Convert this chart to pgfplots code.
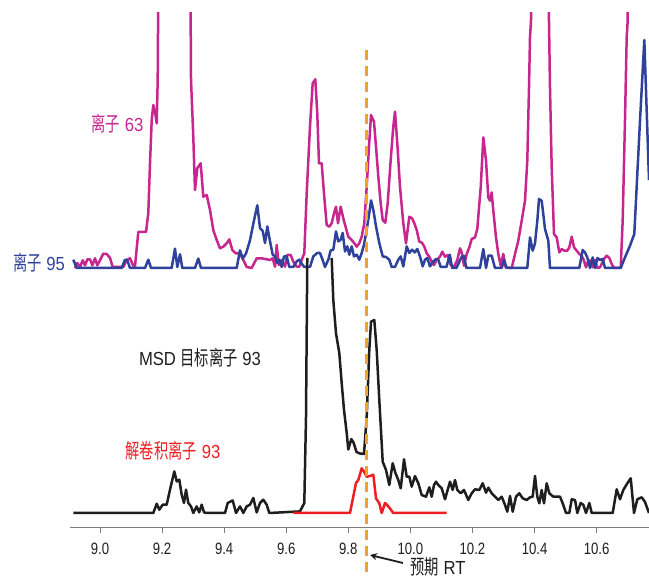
\documentclass[border=0pt]{standalone}
\usepackage{pgfplots}
\pgfplotsset{compat=1.18}
\usepackage{pgfplotstable}
\usepackage{fontspec}
\usetikzlibrary{arrows.meta}
\setmainfont[FakeStretch=0.8]{Liberation Sans}
\newfontfamily\lab[FakeStretch=0.88]{Liberation Sans}
\newfontfamily\cjk[FakeStretch=0.7]{Noto Sans CJK SC}
\newcommand\C[1]{{\cjk\fontsize{20.5}{20.5}\selectfont #1}}
\definecolor{ionA}{RGB}{198,38,142}
\definecolor{ionB}{RGB}{47,66,155}
\definecolor{ionT}{RGB}{30,30,30}
\definecolor{ionD}{RGB}{237,30,36}
\definecolor{rtcol}{RGB}{247,160,40}
\definecolor{axgray}{RGB}{125,125,125}

% ion 63 (magenta), intensity above its own baseline
\pgfplotstableread{
t h
8.9195 0
8.9269 5
8.9356 1
8.9443 7.7
8.9517 2.7
8.9591 8.7
8.9678 8.7
8.9752 2.7
8.9839 9.7
8.9913 2.7
9.0000 7.7
9.0106 14.3
9.0216 14
9.0322 10
9.0409 1
9.0751 1
9.0860 8
9.0966 9.7
9.1073 2
9.1128 2
9.1234 36
9.1395 36
9.1482 36
9.1556 54.7
9.1611 104.7
9.1666 148
9.1717 163
9.1772 156
9.1827 144.7
9.1859 188
9.1965 700
9.2835 700
9.2932 188
9.3006 131
9.3060 78
9.3135 99.7
9.3244 104.7
9.3328 71.3
9.3438 73
9.3544 58
9.3650 38
9.3760 28
9.3866 19.7
9.3972 21.3
9.4082 24.7
9.4166 28.7
9.4262 18
9.4372 14.7
9.4510 14.7
9.4617 8
9.4726 1
9.4887 0
9.5048 9.7
9.5209 9.7
9.5370 8.7
9.5477 8
9.5564 9.7
9.5638 1.3
9.5693 23
9.5757 3
9.5854 8
9.5960 1.3
9.6034 13
9.6144 13
9.6227 6.3
9.6337 1.3
9.6421 1.3
9.6517 9.7
9.6582 14.7
9.6659 74.7
9.6765 141.3
9.6852 184.7
9.6936 188.7
9.7000 154.7
9.7055 104.7
9.7142 104.7
9.7216 74.7
9.7303 43
9.7387 41.3
9.7464 44.7
9.7539 54.7
9.7603 61.3
9.7667 44.7
9.7754 61.3
9.7838 49.7
9.7925 39.7
9.7999 31.3
9.8109 28
9.8193 24.7
9.8270 21.3
9.8354 24.7
9.8431 31.3
9.8515 44.7
9.8592 81.3
9.8666 121.3
9.8731 153
9.8827 146.3
9.8892 121.3
9.8966 91.3
9.9043 64.7
9.9108 48
9.9191 45.3
9.9269 64.7
9.9365 108
9.9449 141.3
9.9504 156.3
9.9578 124.7
9.9665 81.3
9.9771 44.7
9.9858 24.7
9.9965 51.3
10.0052 49.7
10.0126 44.7
10.0203 38
10.0287 26.3
10.0374 25.3
10.0448 21.3
10.0525 14.7
10.0609 11.3
10.0686 6.3
10.0760 3
10.0847 8
10.0954 11.3
10.1028 16.3
10.1115 11.3
10.1202 13
10.1298 3
10.1405 1
10.1511 8
10.1598 19.7
10.1653 15.6
10.1727 2.3
10.1814 14
10.1898 20.6
10.1975 29
10.2081 30.6
10.2155 39
10.2265 80.6
10.2349 130.6
10.2436 107.3
10.2510 70.6
10.2564 67.3
10.2619 75.6
10.2671 57.3
10.2758 30.6
10.2832 14
10.2909 2.3
10.2993 14
10.3070 0.6
10.3264 0
10.3370 14
10.3476 27.3
10.3586 47.3
10.3692 67.3
10.3766 107.3
10.3821 180.6
10.3853 230.6
10.3885 247
10.4014 700
10.4401 700
10.4465 247
10.4497 180.6
10.4552 100.6
10.4626 34
10.4713 30.6
10.4797 15.6
10.4874 19
10.4958 17.3
10.5055 17.3
10.5119 20.6
10.5197 31.3
10.5271 20.6
10.5358 17.3
10.5441 14
10.5519 12.3
10.5593 7.3
10.5657 0.6
10.5731 7.3
10.5809 7.3
10.5873 0.6
10.5947 8
10.6021 0
10.6108 0.6
10.6237 9
10.6324 12.3
10.6408 10
10.6485 4
10.6559 0
10.6775 0
10.6839 47.3
10.6913 147.3
10.6968 230.6
10.7000 247
10.7074 700
10.7718 700
}\ionA

% ion 95 (blue)
\pgfplotstableread{
t h
8.9140 8.3
8.9249 0
9.0699 0
9.0805 8.3
9.0880 7.7
9.0966 0
9.1450 0
9.1556 8.3
9.1643 0
9.2310 0
9.2416 19.4
9.2490 1
9.2577 13.7
9.2651 0
9.3060 0
9.3167 9.4
9.3254 0
9.4404 0
9.4510 17.7
9.4597 9.4
9.4704 14.4
9.4832 27.7
9.4939 44.4
9.5068 62.7
9.5155 40
9.5242 37
9.5316 25
9.5390 41.5
9.5477 26.6
9.5564 13.3
9.5638 11.6
9.5712 5
9.5776 8.3
9.5854 1
9.5928 11.6
9.6015 11.6
9.6099 1
9.6227 1
9.6337 6.6
9.6421 8.3
9.6498 4.3
9.6582 1
9.6765 1
9.6872 11.6
9.7000 15
9.7087 15
9.7162 9
9.7249 1
9.7355 8.3
9.7432 17.6
9.7516 18.3
9.7603 36.6
9.7677 26.6
9.7754 28.3
9.7819 35
9.7893 16.6
9.7967 21.6
9.8031 13.3
9.8109 21.6
9.8183 11.6
9.8270 13.3
9.8354 8.3
9.8431 15
9.8505 23.3
9.8592 38.3
9.8676 55
9.8731 67.6
9.8805 58.3
9.8892 41.6
9.8998 25
9.9108 11.6
9.9214 11
9.9320 8.3
9.9398 1
9.9504 1
9.9610 8.3
9.9688 11.6
9.9771 1.6
9.9881 21.6
9.9965 15
10.0052 18.3
10.0139 15.6
10.0222 19
10.0309 11.6
10.0396 1.6
10.0470 8.3
10.0545 10
10.0631 1.6
10.0738 6.6
10.0825 9
10.0899 8.3
10.0976 1
10.1160 1
10.1270 13.3
10.1344 0
10.1482 0
10.1643 10.6
10.1721 12.3
10.1805 0
10.2242 0
10.2349 19
10.2436 0
10.2510 12.3
10.2619 12.3
10.2725 0
10.2941 0
10.3016 8
10.3099 0
10.3766 0
10.3853 30.6
10.3940 17.3
10.4014 24.6
10.4089 47.3
10.4143 69
10.4229 67.3
10.4281 54
10.4336 39
10.4443 27.3
10.4497 0
10.5441 0
10.5551 18
10.5625 15.6
10.5699 10.6
10.5786 0
10.5873 10.6
10.5947 0
10.6028 10
10.6108 8
10.6195 9
10.6269 0
10.6775 0
10.6913 10.6
10.7074 22.3
10.7213 34
10.7397 147.3
10.7536 228
10.7687 88
}\ionB

% MSD target ion 93 (black)
\pgfplotstableread{
t h
8.9140 0
9.1717 0
9.1827 9.3
9.1910 3.3
9.2020 8.3
9.2149 8.3
9.2255 23.3
9.2394 41.6
9.2471 31.6
9.2555 33.3
9.2632 18.3
9.2706 10
9.2771 23.3
9.2845 10
9.2932 6.6
9.3006 0
9.3115 6.6
9.3196 0.6
9.3276 8.3
9.3351 0.6
9.3438 0
9.4027 0
9.4114 10
9.4275 12.6
9.4381 0
9.4510 6.6
9.4617 0
9.4726 6.6
9.4832 8.3
9.4939 15
9.5048 0.6
9.5155 10
9.5261 13.3
9.5370 8.3
9.5454 0
9.6443 1.6
9.6582 10
9.6637 96.6
9.6678 255
9.7000 nan
9.7464 255
9.7516 213
9.7603 179.7
9.7709 160
9.7787 129.7
9.7861 103
9.7948 80
9.7999 63.5
9.8096 74
9.8173 70
9.8263 61
9.8376 59.5
9.8505 59
9.8592 96.3
9.8676 163
9.8731 191.3
9.8837 193
9.8914 163
9.8998 113
9.9108 51.3
9.9214 43
9.9320 28
9.9430 49.7
9.9514 40.3
9.9610 33
9.9688 24.7
9.9794 53.7
9.9881 36.3
9.9965 36.3
10.0042 26.3
10.0148 37
10.0255 29.7
10.0364 18
10.0503 16.3
10.0609 25.7
10.0686 16.3
10.0760 28
10.0825 31.3
10.0899 28
10.1008 24.7
10.1115 13.7
10.1276 31.3
10.1363 23
10.1437 33
10.1511 23
10.1621 19.7
10.1727 23
10.1865 13
10.1975 19.7
10.2081 23.7
10.2220 23
10.2330 29.7
10.2436 20.3
10.2510 25.3
10.2619 19.7
10.2725 16.3
10.2832 13
10.2941 16.3
10.3048 8
10.3122 1.3
10.3209 17
10.3296 1.3
10.3402 16.3
10.3509 19.7
10.3618 14.7
10.3747 13
10.3853 15.7
10.3940 16.3
10.4014 37
10.4089 16.3
10.4153 9.7
10.4229 23
10.4304 9.7
10.4391 29.7
10.4475 19.7
10.4604 16.3
10.4820 16.3
10.4907 9.7
10.5013 0
10.5119 0
10.5197 13.7
10.5303 13
10.5377 0
10.5486 10
10.5570 8.3
10.5657 0
10.5764 10
10.5841 0
10.6517 0
10.6646 23.7
10.6753 13.7
10.6859 23
10.6988 29.7
10.7098 34.7
10.7204 0
10.7310 13.7
10.7452 15.7
10.7558 11
10.7687 0
}\ionT

% deconvoluted ion 93 (red)
\pgfplotstableread{
t h
9.6227 0
9.7999 0
9.8054 0
9.8247 30
9.8322 33
9.8431 44.7
9.8505 41.3
9.8592 36.3
9.8698 37
9.8805 38.3
9.8892 14.7
9.8998 9.7
9.9075 0
9.9182 10
9.9288 6.7
9.9449 0
10.1163 0
}\ionD

\begin{document}
\begin{tikzpicture}
\path[use as bounding box] (-70bp,-53bp) rectangle (579bp,527bp);
\begin{axis}[
  at={(0,0)}, anchor=south west,
  scale only axis, width=579bp, height=514bp,
  xmin=8.90335, xmax=10.76869, ymin=-14, ymax=500,
  axis x line*=bottom, axis y line=none,
  x axis line style={axgray, line width=1bp, -},
  xtick={9.0,9.2,9.4,9.6,9.8,10.0,10.2,10.4,10.6},
  tick align=outside, major tick length=6bp,
  tick style={axgray, line width=1bp},
  xticklabel style={/pgf/number format/.cd, fixed, fixed zerofill, precision=1, assume math mode=true},
  ticklabel style={font=\fontsize{16.5}{16.5}\selectfont, text=ionT, yshift=-7bp},
  every axis plot/.append style={line width=2.5bp, line join=round, mark=none},
]
\addplot[ionA] table[x=t, y expr=\thisrow{h}+245] {\ionA};
\addplot[ionB] table[x=t, y expr=\thisrow{h}+245] {\ionB};
\addplot[ionT, unbounded coords=jump] table[x=t, y=h] {\ionT};
\addplot[ionD] table[x=t, y=h] {\ionD};
\coordinate (rt) at (axis cs:9.8586,463);
\end{axis}
\draw[rtcol, line width=3bp, dash pattern=on 10bp off 6bp] (rt) -- ++(0,-525bp);
\draw[ionT, line width=1.8bp, -{Stealth[length=7bp,width=7bp]}] (333bp,-36bp) -- (300bp,-28bp);
\begin{scope}[every node/.style={font=\fontsize{19}{19}\selectfont\lab, inner sep=0pt}]
\node[text=ionA] at (47.5bp,403bp) {\C{离子} 63};
\node[text=ionB] at (-31bp,264.5bp) {\C{离子} 95};
\node[text=ionT] at (130bp,169bp) {MSD \C{目标离子} 93};
\node[text=ionD] at (103bp,76bp) {\C{解卷积离子} 93};
\node[text=ionT] at (368bp,-40bp) {\C{预期} RT};
\end{scope}
\end{tikzpicture}
\end{document}
